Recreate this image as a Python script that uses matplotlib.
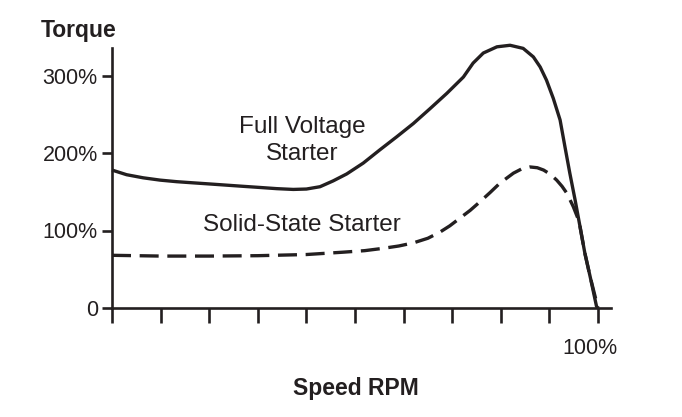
import matplotlib
matplotlib.use("Agg")
import matplotlib.pyplot as plt
from matplotlib.transforms import ScaledTranslation

# ---- data (speed % , torque %) ----
full_speed = [0, 3, 6.4, 9.9, 13.3, 16.7, 20.2, 23.6, 27, 30.5, 33.9, 37.3,
              40, 42.8, 45.5, 48.3, 51.7, 55.1, 58.6, 62, 65.4, 68.9, 72.3,
              74.3, 76.4, 79.2, 81.9, 84.6, 86.7, 88.1, 89.4, 90.8, 92.2,
              93.2, 94.2, 95.3, 96.3, 97.3, 98.4, 99.7, 100]
full_torque = [178, 172, 168, 165, 163, 161.5, 160, 158.5, 157, 155.5, 154, 153,
               153.5, 156.5, 164, 173, 187, 204, 221, 238, 257, 277, 298,
               316, 329, 337, 339, 335, 324, 311, 294, 270.5, 242.6,
               208, 174, 139, 105, 70.6, 40, 2, 0]

solid_speed = [0, 10, 20, 30, 40, 47.5, 52, 55.8, 59, 62, 65, 67.5, 69.5,
               71.6, 73.7, 75.7, 77.8, 79.8, 82.6, 84.3, 86, 87.5, 88.8,
               90.2, 91.5, 92.6, 93.6, 94.9, 96, 96.3, 97.3, 98.4, 100]
solid_torque = [68, 67, 67, 67.5, 69, 72, 74, 77, 80, 84, 90, 98, 106,
                116, 126, 137, 149, 161, 174, 179.5, 182, 181, 178,
                172.5, 165, 157, 148, 131, 113.5, 105, 70.6, 40, 0]

x_ticks = [0, 10, 20, 30, 40, 50, 60, 70, 80, 90, 100]
x_tick_labels = ["", "", "", "", "", "", "", "", "", "", "100%"]
y_ticks = [0, 100, 200, 300]
y_tick_labels = ["0", "100%", "200%", "300%"]

INK = "#231f20"
FONT = "Liberation Sans"
plt.rcParams["font.family"] = [FONT, "DejaVu Sans"]

fig = plt.figure(figsize=(6.82, 4.17), dpi=100)
ax = fig.add_axes([112 / 682, 1 - 308 / 417, (610.7 - 112) / 682, (308 - 48) / 417])

ax.plot(full_speed, full_torque, color=INK, lw=2.4, solid_capstyle="butt",
        solid_joinstyle="round", clip_on=False)
ax.plot(solid_speed, solid_torque, color=INK, lw=2.4, linestyle=(0, (5.7, 2.6)),
        clip_on=False)

ax.set_xlim(0, (610.7 - 112) / 4.86)
ax.set_ylim(0, (308 - 48) / 0.775)

for s in ["top", "right"]:
    ax.spines[s].set_visible(False)
for s in ["left", "bottom"]:
    ax.spines[s].set_color(INK)
    ax.spines[s].set_linewidth(1.9)

ax.set_xticks(x_ticks)
ax.set_xticklabels(x_tick_labels)
ax.set_yticks(y_ticks)
ax.set_yticklabels(y_tick_labels)
ax.tick_params(axis="x", direction="out", length=10.8, width=1.9, color=INK,
               labelsize=15.5, labelcolor=INK, pad=11)
ax.tick_params(axis="y", direction="out", length=7.2, width=1.9, color=INK,
               labelsize=15.5, labelcolor=INK, pad=3)

lab = ax.get_xticklabels()[-1]
lab.set_transform(lab.get_transform() + ScaledTranslation(-8 / 100, 0, fig.dpi_scale_trans))

ax.text(39.1, 226.2, "Full Voltage", ha="center", va="baseline", fontsize=17.5, color=INK)
ax.text(39.1, 191.0, "Starter", ha="center", va="baseline", fontsize=17.5, color=INK)
ax.text(39.1, 99.4, "Solid-State Starter", ha="center", va="baseline", fontsize=17.5, color=INK)

fig.text(41 / 682, 1 - 30 / 417, "Torque", ha="left", va="center", fontsize=16.5,
         fontweight="bold", color=INK)
fig.text(356 / 682, 1 - 389 / 417, "Speed RPM", ha="center", va="center", fontsize=16.5,
         fontweight="bold", color=INK)

fig.savefig("out.png", dpi=100, facecolor="white")
